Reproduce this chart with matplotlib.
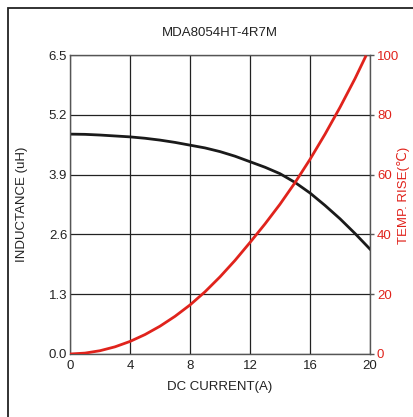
import matplotlib.pyplot as plt
from matplotlib.patches import Rectangle

plt.rcParams['font.family'] = ['Liberation Sans', 'DejaVu Sans']

# inductance curve (uH) vs DC current (A)
current_l = [0, 1, 2, 3, 4, 5, 6, 7, 8, 9, 10, 11, 12, 13, 14, 15, 16, 17, 18, 19, 20]
inductance = [4.78, 4.775, 4.76, 4.74, 4.72, 4.69, 4.65, 4.60, 4.54, 4.48, 4.40, 4.30, 4.18,
              4.06, 3.92, 3.73, 3.50, 3.23, 2.94, 2.62, 2.28]

# temperature rise curve
current_t = [0, 1, 2, 3, 4, 5, 6, 7, 8, 9, 10, 11, 12, 13, 14, 15, 16, 17, 18, 19, 19.7]
temp_rise = [0, 0.3, 1.1, 2.4, 4.2, 6.5, 9.3, 12.6, 16.4, 20.8, 25.8, 31.3, 37.3,
             43.5, 50.1, 57.3, 65.1, 73.5, 82.5, 92.1, 99.4]

x_ticks = [0, 4, 8, 12, 16, 20]
l_ticks = [0.0, 1.3, 2.6, 3.9, 5.2, 6.5]
t_ticks = [0, 20, 40, 60, 80, 100]

red = '#e0231c'
fs = 9.5

fig = plt.figure(figsize=(4.14, 4.17), dpi=100)
ax = fig.add_axes([70/414, 63/417, 300/414, 299/417])

# outer frame
fig.patches.append(Rectangle((8/414, -0.1), 1.2, 1 - 8/417 + 0.1, transform=fig.transFigure,
                             fill=False, edgecolor='#222222', linewidth=1.3))

ax.plot(current_l, inductance, color='#1a1a1a', linewidth=2)
ax.set_xlim(0, 20)
ax.set_ylim(0, 6.5)
ax.set_xticks(x_ticks)
ax.set_yticks(l_ticks)
ax.set_yticklabels(['%.1f' % v for v in l_ticks])
ax.grid(True, color='#222222', linewidth=0.9)
ax.tick_params(length=0, labelsize=fs, colors='#222222', pad=2)
ax.tick_params(axis='x', pad=4)
for s in ax.spines.values():
    s.set_color('#555555')
    s.set_linewidth(1.0)

ax2 = ax.twinx()
ax2.plot(current_t, temp_rise, color=red, linewidth=2)
ax2.set_ylim(0, 100)
ax2.set_yticks(t_ticks)
ax2.tick_params(axis='y', length=3, width=1, color='#555555', labelcolor=red, labelsize=fs, pad=2)
for s in ax2.spines.values():
    s.set_visible(False)

ax.set_xlabel('DC CURRENT(A)', fontsize=fs, color='#222222')
ax.xaxis.set_label_coords(0.5, -0.09)
ax.set_ylabel('INDUCTANCE (uH)', fontsize=fs, color='#222222')
ax.yaxis.set_label_coords(-0.14, 0.5)
ax2.set_ylabel('TEMP. RISE(℃)', fontsize=fs, color=red)
ax2.yaxis.set_label_coords(1.09, 0.53)
ax.set_title('MDA8054HT-4R7M', fontsize=fs, pad=14, color='#222222')

plt.savefig('out.png', dpi=100)
